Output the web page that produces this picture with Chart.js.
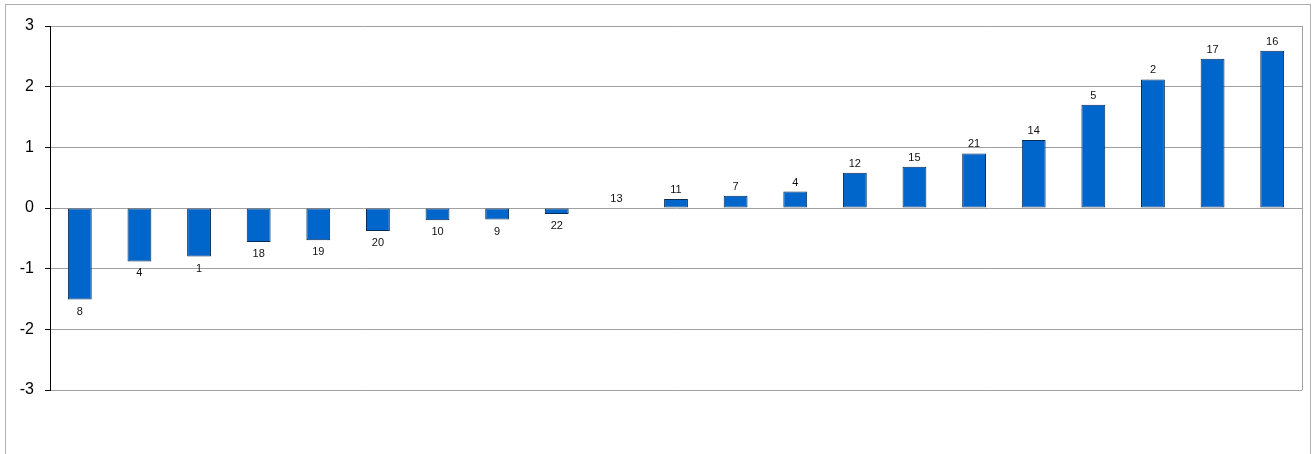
<!DOCTYPE html>
<html>
<head>
<meta charset="utf-8">
<script src="https://cdn.jsdelivr.net/npm/chart.js@4"></script>
<style>
html,body{margin:0;padding:0;background:#fff;}
#wrap{position:relative;width:1315px;height:454px;}
#frame{position:absolute;left:5px;top:4px;width:1306px;height:460px;border:1px solid #b0b0b0;box-sizing:border-box;}
canvas{position:absolute;left:0;top:0;}
</style>
</head>
<body>
<div id="wrap">
<div id="frame"></div>
<canvas id="c" width="1315" height="454"></canvas>
</div>
<script>
const categories = ["8","4","1","18","19","20","10","9","22","13","11","7","4","12","15","21","14","5","2","17","16"];
const values = [-1.51,-0.88,-0.80,-0.56,-0.53,-0.38,-0.20,-0.19,-0.10,0,0.15,0.20,0.27,0.58,0.68,0.90,1.12,1.70,2.12,2.46,2.59];
const yTicks = [3,2,1,0,-1,-2,-3];

const dataLabels = {
  id:'dataLabels',
  afterDatasetsDraw(chart){
    const ctx = chart.ctx;
    const meta = chart.getDatasetMeta(0);
    ctx.save();
    ctx.font = '11px "Liberation Sans", Arial, sans-serif';
    ctx.fillStyle = '#111';
    ctx.textAlign = 'center';
    ctx.textBaseline = 'alphabetic';
    meta.data.forEach((bar,i)=>{
      const v = values[i];
      if (v >= 0) ctx.fillText(categories[i], bar.x, bar.y - 6);
      else ctx.fillText(categories[i], bar.x, bar.y + 15);
    });
    ctx.restore();
  }
};
const rightBorder = {
  id:'rightBorder',
  beforeDatasetsDraw(chart){
    const a = chart.chartArea, ctx = chart.ctx;
    ctx.save();
    ctx.strokeStyle = '#a0a0a0';
    ctx.lineWidth = 1;
    ctx.beginPath();
    ctx.moveTo(Math.round(a.right)+0.5, a.top);
    ctx.lineTo(Math.round(a.right)+0.5, a.bottom);
    ctx.stroke();
    ctx.restore();
  }
};

new Chart(document.getElementById('c'), {
  type:'bar',
  data:{
    labels: categories.map((c,i)=>i),
    datasets:[{
      data: values,
      backgroundColor:'#0066CC',
      borderColor:'#062C55',
      borderWidth:1,
      borderSkipped:false,
      barPercentage:0.4,
      categoryPercentage:1
    }]
  },
  options:{
    responsive:false,
    animation:false,
    devicePixelRatio:1,
    layout:{padding:{left:0,top:26,right:13,bottom:64}},
    plugins:{legend:{display:false},tooltip:{enabled:false}},
    scales:{
      x:{display:false},
      y:{
        min:-3,max:3,
        afterFit(s){s.width=50;},
        afterBuildTicks(s){s.ticks = yTicks.map(v=>({value:v}));},
        ticks:{
          font:{family:'"Liberation Sans", Arial, sans-serif',size:16},
          color:'#000',
          padding:11,
          callback:(v)=>String(v)
        },
        grid:{color:'#a0a0a0',lineWidth:1,tickLength:5,tickColor:'#000',drawTicks:true},
        border:{display:true,color:'#000',width:1}
      }
    }
  },
  plugins:[dataLabels,rightBorder]
});
</script>
</body>
</html>
